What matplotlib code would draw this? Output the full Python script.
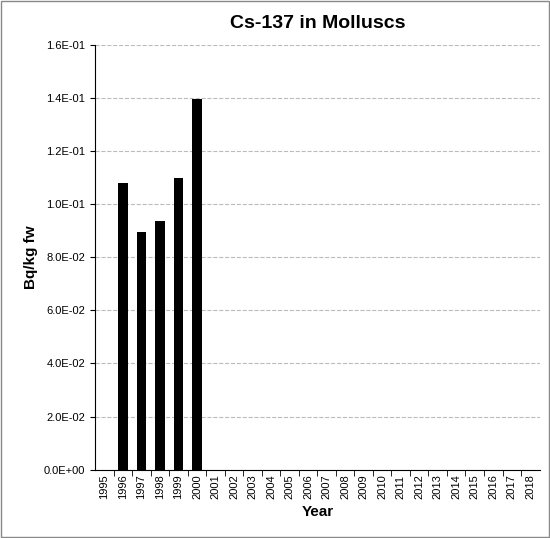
import matplotlib
matplotlib.use("Agg")
import matplotlib.pyplot as plt
from matplotlib.ticker import FixedLocator

years = [str(y) for y in range(1995, 2019)]
values = [None, 0.108, 0.0893, 0.0935, 0.1097, 0.1397] + [None]*18
yticks = [0.0, 0.02, 0.04, 0.06, 0.08, 0.10, 0.12, 0.14, 0.16]
ylabels = ["0.0E+00","2.0E-02","4.0E-02","6.0E-02","8.0E-02","1.0E-01","1.2E-01","1.4E-01","1.6E-01"]

plt.rcParams['font.family'] = ['Liberation Sans', 'DejaVu Sans']
fig = plt.figure(figsize=(5.5, 5.38), dpi=100)
fig.patches.append(plt.Rectangle((0.002,0.002),0.996,0.996,transform=fig.transFigure,fill=False,edgecolor='#888888',lw=1))
ax = fig.add_axes([0.173, 0.127, 0.808, 0.79])
xs = list(range(len(years)))
hx = [x for x, v in zip(xs, values) if v is not None]
hv = [v for v in values if v is not None]
ax.bar(hx, hv, width=0.5, color='black', zorder=3)
ax.set_xlim(-0.5, len(years)-0.5)
ax.set_ylim(0, 0.16)
ax.set_xticks(xs)
ax.set_xticklabels(years, rotation=90, fontsize=8)
ax.set_yticks(yticks)
ax.set_yticklabels(ylabels, fontsize=8)
ax.xaxis.set_minor_locator(FixedLocator([x+0.5 for x in xs[:-1]]))
ax.tick_params(axis='x', which='major', length=0)
ax.tick_params(axis='x', which='minor', length=4)
ax.yaxis.grid(True, linestyle='--', color='#bbbbbb', lw=0.8, zorder=0)
for s in ['top','right']:
    ax.spines[s].set_visible(False)
ax.set_xlabel('Year', fontsize=11, fontweight='bold')
ax.set_ylabel('Bq/kg fw', fontsize=11, fontweight='bold')
ax.set_title('Cs-137 in Molluscs', fontsize=14, fontweight='bold', pad=12)
fig.savefig('out.png')
